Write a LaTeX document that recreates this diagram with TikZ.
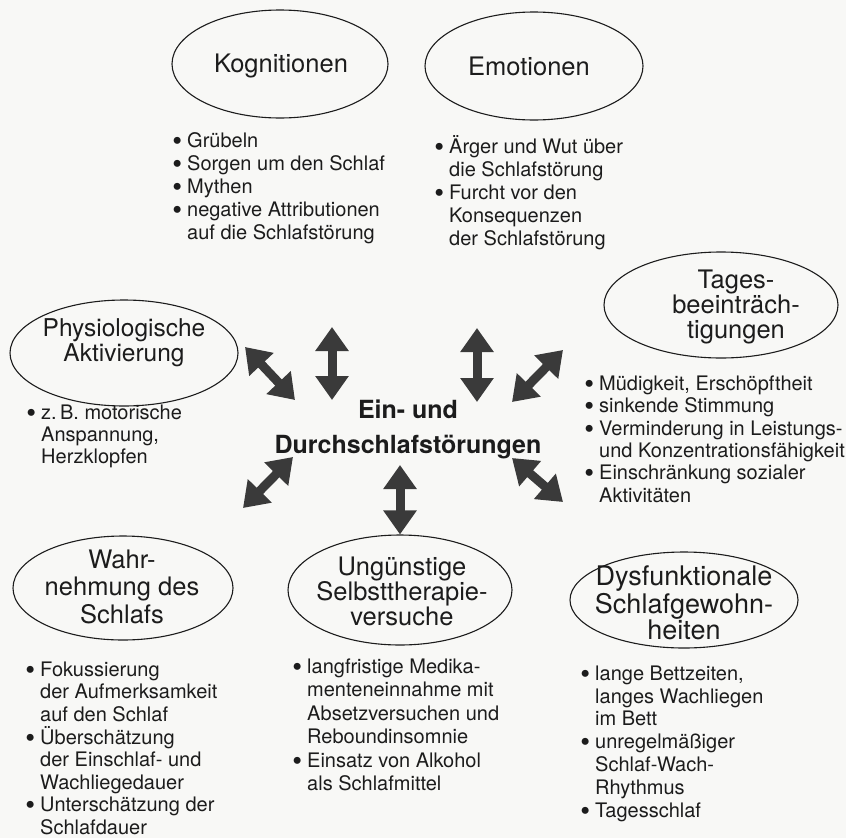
\documentclass[tikz,border=0pt]{standalone}
\usepackage{fontspec}
\setmainfont{TeX Gyre Heros}
\usepackage{xcolor}
\usepackage{graphicx}
\usepackage{tikz}
\usetikzlibrary{arrows.meta,positioning,shapes.geometric}
\definecolor{paper}{RGB}{248,248,246}
\definecolor{ink}{RGB}{28,28,28}
\definecolor{arrowgray}{RGB}{58,58,58}
\newcommand{\itm}{\rule{0pt}{17pt}\makebox[20pt][c]{\raisebox{-3pt}{\scalebox{1.4}{\textbullet}}}}
\newcommand{\ind}{\hspace*{20pt}}
\tikzstyle{topic} = [ellipse, draw=ink, line width=1.1pt, inner sep=0pt]
\tikzstyle{topictext} = [anchor=north, align=center, inner sep=0pt, text=ink, font=\fontsize{25.5}{25}\selectfont]
\tikzstyle{core} = [anchor=north, align=center, inner sep=0pt, text=ink, font=\bfseries\fontsize{25}{35}\selectfont]
\tikzstyle{items} = [anchor=north west, align=left, inner sep=0pt, text=ink, font=\fontsize{20}{23}\selectfont]
\tikzstyle{biarrow} = [{Triangle[width=32pt,length=24pt]}-{Triangle[width=32pt,length=24pt]}, line width=9pt, draw=arrowgray]

\begin{document}
\begin{tikzpicture}[x=1pt, y=-1pt]
\fill[paper] (0,0) rectangle (846,838);
\useasboundingbox (0,0) rectangle (846,838);

% ellipses
\node[topic, minimum width=216pt, minimum height=108pt] (kog) at (280,64) {};
\node[topic, minimum width=218pt, minimum height=108pt] (emo) at (534,66) {};
\node[topic, minimum width=228pt, minimum height=106pt] (phys) at (124,353) {};
\node[topic, minimum width=234pt, minimum height=106pt] (tag) at (721,305) {};
\node[topic, minimum width=220pt, minimum height=104pt] (wahr) at (123,588) {};
\node[topic, minimum width=224pt, minimum height=110pt] (ung) at (400,590) {};
\node[topic, minimum width=228pt, minimum height=96pt] (dys) at (684,600) {};

% titles
\node[topictext] (kogtxt) at (281,53.6) {Kognitionen};
\node[topictext] (emotxt) at (529,56.6) {Emotionen};
\node[topictext, font=\fontsize{24.5}{25}\selectfont] (phystxt) at (124,318.5) {Physiologische\\Aktivierung};
\node[topictext] (tagtxt) at (736,269.6) {Tages-\\beeinträch-\\tigungen};
\node[topictext, font=\fontsize{25.5}{27.5}\selectfont] (wahrtxt) at (122,549.6) {Wahr-\\nehmung des\\Schlafs};
\node[topictext] (ungtxt) at (402,556.6) {Ungünstige\\Selbsttherapie-\\versuche};
\node[topictext, font=\fontsize{27}{25}\selectfont] (dystxt) at (684,566) {Dysfunktionale\\Schlafgewohn-\\heiten};
\node[core] (main) at (408,400) {Ein- und\\Durchschlafstörungen};

% lists
\node[items] (kogitems) at (167,130) {\itm Grübeln\\ \itm Sorgen um den Schlaf\\ \itm Mythen\\ \itm negative Attributionen\\ \ind auf die Schlafstörung};
\node[items] (emoitems) at (429,135.5) {\itm Ärger und Wut über\\ \ind die Schlafstörung\\ \itm Furcht vor den\\ \ind Konsequenzen\\ \ind der Schlafstörung};
\node[items, font=\fontsize{20}{22.3}\selectfont] (physitems) at (21,402) {\itm z.\,B. motorische\\ \ind Anspannung,\\ \ind Herzklopfen};
\node[items, font=\fontsize{20}{22.4}\selectfont] (tagitems) at (579,373) {\itm Müdigkeit, Erschöpftheit\\ \itm sinkende Stimmung\\ \itm Verminderung in Leistungs-\\ \ind und Konzentrationsfähigkeit\\ \itm Einschränkung sozialer\\ \ind Aktivitäten};
\node[items, font=\fontsize{20}{22.6}\selectfont] (wahritems) at (20,659) {\itm Fokussierung\\ \ind der Aufmerksamkeit\\ \ind auf den Schlaf\\ \itm Überschätzung\\ \ind der Einschlaf- und\\ \ind Wachliegedauer\\ \itm Unterschätzung der\\ \ind Schlafdauer};
\node[items, font=\fontsize{20}{23.5}\selectfont] (ungitems) at (287,656) {\itm langfristige Medika-\\ \ind menteneinnahme mit\\ \ind Absetzversuchen und\\ \ind Reboundinsomnie\\ \itm Einsatz von Alkohol\\ \ind als Schlafmittel};
\node[items, font=\fontsize{20}{22.8}\selectfont] (dysitems) at (575,663) {\itm lange Bettzeiten,\\ \ind langes Wachliegen\\ \ind im Bett\\ \itm unregelmäßiger\\ \ind Schlaf-Wach-\\ \ind Rhythmus\\ \itm Tagesschlaf};

% arrow ends
\coordinate (physA) at (245,347);
\coordinate (physB) at (295,400);
\coordinate (kogA) at (332,327);
\coordinate (kogB) at (332,400);
\coordinate (emoA) at (477,328);
\coordinate (emoB) at (477,402);
\coordinate (tagA) at (563,350);
\coordinate (tagB) at (512,402);
\coordinate (wahrA) at (243,508);
\coordinate (wahrB) at (293,457);
\coordinate (ungB) at (400,465);
\coordinate (dysA) at (563,502);
\coordinate (dysB) at (512,458);

\draw[biarrow] (physA) -- (physB);
\draw[biarrow] (kogA) -- (kogB);
\draw[biarrow] (emoA) -- (emoB);
\draw[biarrow] (tagA) -- (tagB);
\draw[biarrow] (wahrA) -- (wahrB);
\draw[biarrow] (ungB) -- (ung.north);
\draw[biarrow] (dysA) -- (dysB);
\end{tikzpicture}
\end{document}
